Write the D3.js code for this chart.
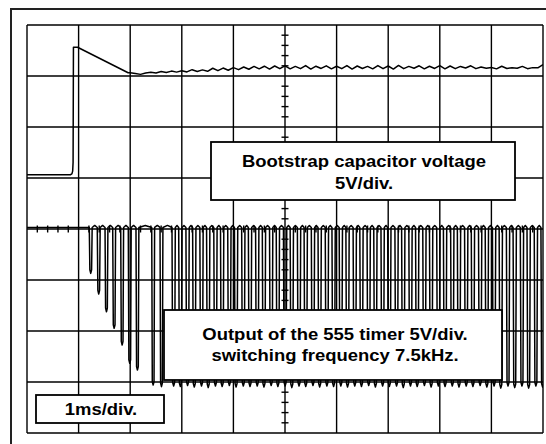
<!DOCTYPE html>
<html>
<head>
<meta charset="utf-8">
<script src="https://cdn.jsdelivr.net/npm/d3@7"></script>
<style>
  html, body { margin: 0; padding: 0; background: #fff; }
  svg { display: block; }
  text { font-family: "Liberation Sans", Arial, Helvetica, sans-serif; font-weight: bold; fill: #000; }
</style>
</head>
<body>
<svg id="chart" width="546" height="444"></svg>
<script>
// ---------------- DATA ----------------
// Time base: 1 ms/div, 10 divisions. Vertical: 5 V/div, 8 divisions.
const timeDivs = [0, 1, 2, 3, 4, 5, 6, 7, 8, 9, 10];            // ms
const voltDivs = [-20, -15, -10, -5, 0, 5, 10, 15, 20];           // V (screen)

// Channel 1: bootstrap capacitor voltage (V), ground marker offset on screen
const ch1Offset = 5.32;
const ch1StepTimes = [0, 0.84, 0.87, 0.885, 0.893, 0.90, 0.98, 1.96];
const ch1StepVolts = [0, 0, 0.08, 0.35, 1.2, 12.5, 12.5, 10.0];
const ch1NoiseStart = 2.0, ch1NoiseStep = 0.1;
const ch1NoiseVolts = [
  10.0, 9.92, 9.84, 9.98, 10.04, 9.98, 10.12, 10.02, 10.16, 10.06,
  10.20, 10.08, 10.30, 10.12, 10.28, 10.14, 10.44, 10.20, 10.46, 10.24,
  10.50, 10.30, 10.56, 10.34, 10.62, 10.38, 10.64, 10.36, 10.66, 10.40,
  10.68, 10.38, 10.62, 10.40, 10.70, 10.36, 10.64, 10.42, 10.68, 10.38,
  10.64, 10.40, 10.70, 10.36, 10.66, 10.42, 10.62, 10.38, 10.70, 10.40,
  10.66, 10.36, 10.72, 10.40, 10.62, 10.44, 10.68, 10.38, 10.64, 10.42,
  10.70, 10.38, 10.66, 10.40, 10.62, 10.46, 10.68, 10.40, 10.56, 10.44,
  10.52, 10.38, 10.64, 10.42, 10.50, 10.44, 10.62, 10.40, 10.50, 10.48,
  10.80
];

// Channel 2: 555 timer output (V), ground marker offset on screen
const ch2Offset = -15.1;
const ch2High = 15.25;
// start-up spikes (partial discharges)
const spikeTimes = [1.207, 1.362, 1.512, 1.661, 1.816, 1.963, 2.112, 2.417, 2.578];
const spikeMins  = [10.75, 8.73, 6.99, 5.36, 3.73, 1.93, 1.27, -0.2, -0.36];
// steady switching pulses (~7.5 kHz)
const pulseTimes = [
  2.81, 2.94, 3.08, 3.21, 3.35, 3.48, 3.62, 3.75, 3.89, 4.02,
  4.16, 4.29, 4.43, 4.56, 4.70, 4.83, 4.97, 5.10, 5.24, 5.37,
  5.51, 5.64, 5.78, 5.91, 6.05, 6.18, 6.32, 6.45, 6.59, 6.72,
  6.86, 6.99, 7.13, 7.26, 7.40, 7.53, 7.67, 7.80, 7.94, 8.07,
  8.21, 8.34, 8.48, 8.61, 8.75, 8.88, 9.02, 9.15, 9.29, 9.42,
  9.56, 9.69, 9.83, 9.96
];
const pulseMins = [
  -0.3, -0.35, -0.25, -0.4, -0.3, -0.45, -0.3, -0.35, -0.25, -0.4,
  -0.3, -0.35, -0.3, -0.4, -0.25, -0.35, -0.3, -0.45, -0.3, -0.35,
  -0.25, -0.4, -0.3, -0.35, -0.3, -0.4, -0.3, -0.35, -0.25, -0.4,
  -0.3, -0.35, -0.3, -0.45, -0.3, -0.35, -0.25, -0.4, -0.3, -0.35,
  -0.3, -0.4, -0.3, -0.35, -0.25, -0.4, -0.3, -0.5, -0.3, -0.45,
  -0.3, -0.5, -0.3, -0.4
];

// Annotation texts
const label1 = ["Bootstrap capacitor voltage", "5V/div."];
const label2 = ["Output of the 555 timer 5V/div.", "switching frequency 7.5kHz."];
const label3 = ["1ms/div."];

// ---------------- DRAW ----------------
const svg = d3.select("#chart");
const x = d3.scaleLinear().domain([0, 10]).range([27, 543]);
const y = d3.scaleLinear().domain([-20, 20]).range([433, 25]);

svg.append("rect").attr("width", 546).attr("height", 444).attr("fill", "#fff");

// outer frame
svg.append("rect").attr("x", 11).attr("y", 9).attr("width", 540).attr("height", 436)
  .attr("fill", "none").attr("stroke", "#222").attr("stroke-width", 2);

// grid
const grid = svg.append("g").attr("stroke", "#000").attr("stroke-width", 1.4);
grid.selectAll("line.v").data(timeDivs).join("line")
  .attr("x1", d => x(d)).attr("x2", d => x(d)).attr("y1", y(-20)).attr("y2", y(20));
grid.selectAll("line.h").data(voltDivs).join("line")
  .attr("x1", x(0)).attr("x2", x(10)).attr("y1", d => y(d)).attr("y2", d => y(d));

// minor ticks on centre axes
const vTicks = d3.range(-20, 20.001, 1).filter(v => Math.abs(v % 5) > 1e-6);
const hTicks = d3.range(0, 10.001, 0.2).filter(t => Math.abs(t - Math.round(t)) > 1e-6);
grid.selectAll("line.vt").data(vTicks).join("line")
  .attr("x1", x(5) - 3.5).attr("x2", x(5) + 3.5).attr("y1", d => y(d)).attr("y2", d => y(d));
grid.selectAll("line.ht").data(hTicks).join("line")
  .attr("x1", d => x(d)).attr("x2", d => x(d)).attr("y1", y(0) - 3.5).attr("y2", y(0) + 3.5);

// clip to screen
svg.append("clipPath").attr("id", "scr").append("rect")
  .attr("x", x(0)).attr("y", y(20)).attr("width", x(10) - x(0)).attr("height", y(-20) - y(20));

const line = d3.line().x(d => x(d[0])).y(d => y(d[1]));
const traces = svg.append("g").attr("clip-path", "url(#scr)")
  .attr("fill", "none").attr("stroke", "#000").attr("stroke-width", 1.5)
  .attr("stroke-linejoin", "round");

// channel 1 points
const ch1 = ch1StepTimes.map((t, i) => [t, ch1StepVolts[i] + ch1Offset]);
ch1NoiseVolts.forEach((v, i) => ch1.push([ch1NoiseStart + i * ch1NoiseStep, v + ch1Offset]));
traces.append("path").attr("d", line(ch1));

// channel 2 points: each pulse is a fast fall to its minimum and a fast rise
const pulses = spikeTimes.map((t, i) => ({ t, m: spikeMins[i], w: 0.056 }))
  .concat(pulseTimes.map((t, i) => ({ t, m: pulseMins[i], w: 0.064 })));
const ch2 = [[0, ch2High + ch2Offset]];
pulses.forEach((p, i) => {
  const hi = ch2High + ch2Offset;
  ch2.push([p.t, hi]);
  ch2.push([p.t + p.w * 0.2, p.m + 0.35 + ch2Offset]);
  ch2.push([p.t + p.w * 0.5, p.m + ch2Offset]);
  ch2.push([p.t + p.w * 0.8, p.m + 0.35 + ch2Offset]);
  ch2.push([p.t + p.w, hi]);
  const next = pulses[i + 1];
  if (next) ch2.push([(p.t + p.w + next.t) / 2, hi + 0.2]);
});
ch2.push([10.2, ch2High + ch2Offset]);
traces.append("path").attr("d", line(ch2));

// annotation boxes
function box(x0, y0, x1, y1, lines, cx, baselines) {
  const g = svg.append("g");
  g.append("rect").attr("x", x0).attr("y", y0).attr("width", x1 - x0).attr("height", y1 - y0)
    .attr("fill", "#fff").attr("stroke", "#000").attr("stroke-width", 1.8);
  lines.forEach((s, i) => {
    g.append("text").attr("transform", `translate(${cx},${baselines[i]}) scale(1.12,1)`)
      .attr("text-anchor", "middle").attr("font-size", 16.5).text(s);
  });
}
box(211, 142, 515, 200, label1, 364, [167, 188.5]);
box(164, 310, 502, 380, label2, 335, [340, 361]);
box(36, 395, 164, 423, label3, 101, [415]);
</script>
</body>
</html>
